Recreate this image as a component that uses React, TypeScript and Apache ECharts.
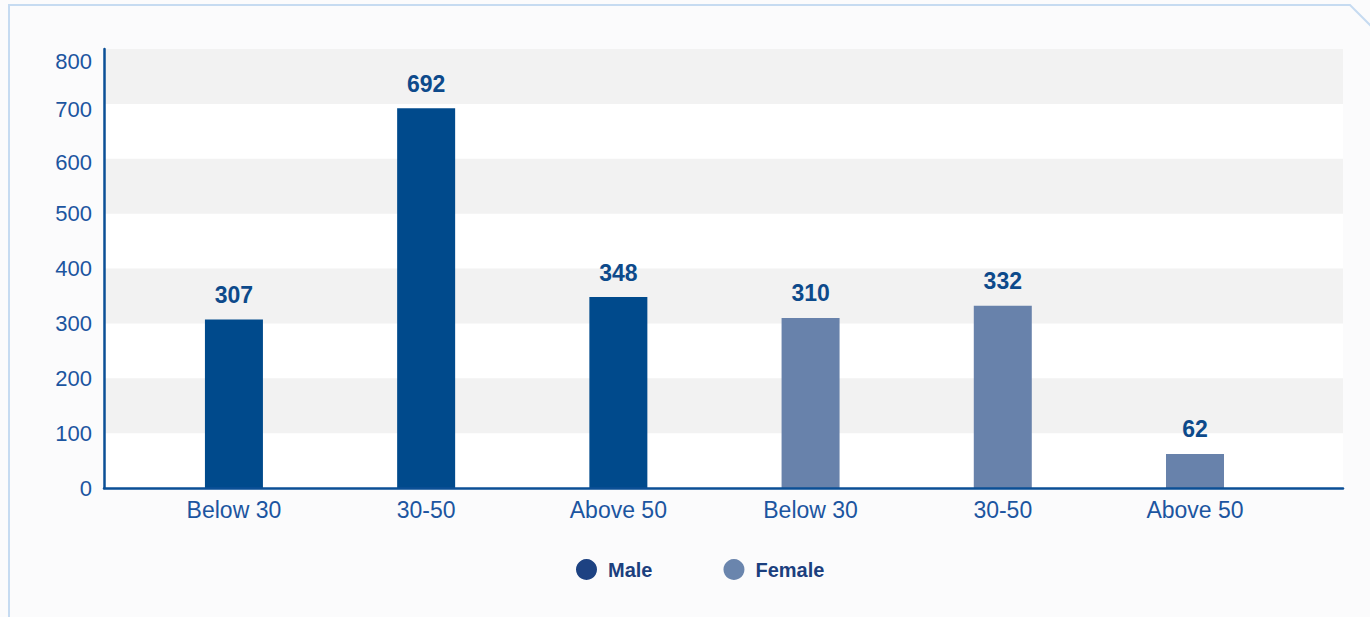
import React, { useEffect, useRef } from "react";
import * as echarts from "echarts";

const categories = ["Below 30", "30-50", "Above 50", "Below 30", "30-50", "Above 50"];
const maleIndex = [0, 1, 2];
const maleValues = [307, 692, 348];
const femaleIndex = [3, 4, 5];
const femaleValues = [310, 332, 62];
const yTicks = [0, 100, 200, 300, 400, 500, 600, 700, 800];
const grayBands = [
  [100, 200],
  [300, 400],
  [500, 600],
  [700, 800],
];

const MALE = "#004a8c";
const FEMALE = "#6882ab";
const AXIS = "#0b4f96";
const FONT = "'Liberation Sans', Arial, sans-serif";
const YLABEL = { fontFamily: FONT, fontSize: 22, color: "#1c55a0" };

export default function App() {
  const ref = useRef<HTMLDivElement>(null);
  useEffect(() => {
    if (!ref.current) return;
    const chart = echarts.init(ref.current, undefined, { renderer: "svg" });
    const labelStyle = {
      show: true,
      position: "top",
      distance: 13,
      fontFamily: FONT,
      fontSize: 23,
      fontWeight: "bold",
      color: "#0d4a8b",
    };
    chart.setOption({
      animation: false,
      backgroundColor: "#fbfbfc",
      graphic: [
        {
          type: "polyline",
          shape: { points: [[9, 617], [9, 5], [1350, 5], [1372, 27]] },
          style: { stroke: "#c6dbf1", lineWidth: 2, fill: null },
          silent: true,
        },
      ],
      grid: {
        left: 104,
        right: 27,
        top: 49,
        bottom: 129,
        show: true,
        backgroundColor: "#ffffff",
        borderWidth: 0,
      },
      legend: {
        left: 571,
        top: 554,
        icon: "circle",
        itemWidth: 33,
        itemHeight: 21,
        itemGap: 71,
        textStyle: { fontFamily: FONT, fontSize: 20, fontWeight: "bold", color: "#1b3f7e" },
        data: [
          { name: "Male", itemStyle: { color: "#1d4282" } },
          { name: "Female", itemStyle: { color: "#6a85ad" } },
        ],
      },
      xAxis: {
        type: "value",
        min: -0.676,
        max: 5.77,
        z: 10,
        axisLine: { show: true, onZero: false, lineStyle: { color: AXIS, width: 2.5 } },
        axisTick: { show: false },
        splitLine: { show: false },
        axisLabel: {
          customValues: maleIndex.concat(femaleIndex),
          formatter: (v: number) => categories[Math.round(v)] ?? "",
          fontFamily: FONT,
          fontSize: 23,
          color: "#1c55a0",
          margin: 10,
        },
      },
      yAxis: {
        type: "value",
        min: 0,
        max: 800,
        z: 10,
        axisLine: { show: true, onZero: false, lineStyle: { color: AXIS, width: 2.5 } },
        axisTick: { show: false },
        splitLine: { show: false },
        axisLabel: {
          customValues: yTicks,
          ...YLABEL,
          margin: 12,
          formatter: (v: number) =>
            v === 800 ? `{a|${v}}` : v === 700 ? `{b|${v}}` : v === 600 ? `{c|${v}}` : `{n|${v}}`,
          rich: {
            a: { ...YLABEL, padding: [24, 0, 0, 0] },
            b: { ...YLABEL, padding: [12, 0, 0, 0] },
            c: { ...YLABEL, padding: [8, 0, 0, 0] },
            n: { ...YLABEL },
          },
        },
      },
      series: [
        {
          name: "Male",
          type: "bar",
          barWidth: 58,
          barGap: "-100%",
          itemStyle: { color: MALE },
          label: labelStyle,
          data: maleIndex.map((x, i) => [x, maleValues[i]]),
          markArea: {
            silent: true,
            itemStyle: { color: "#f2f2f2" },
            label: { show: false },
            data: grayBands.map(([a, b]) => [{ yAxis: a }, { yAxis: b }]),
          },
        },
        {
          name: "Female",
          type: "bar",
          barWidth: 58,
          barGap: "-100%",
          itemStyle: { color: FEMALE },
          label: labelStyle,
          data: femaleIndex.map((x, i) => [x, femaleValues[i]]),
        },
      ],
    });
    return () => chart.dispose();
  }, []);
  return (
    <div
      ref={ref}
      style={{ position: "fixed", left: 0, top: 0, width: 1370, height: 617 }}
    />
  );
}
